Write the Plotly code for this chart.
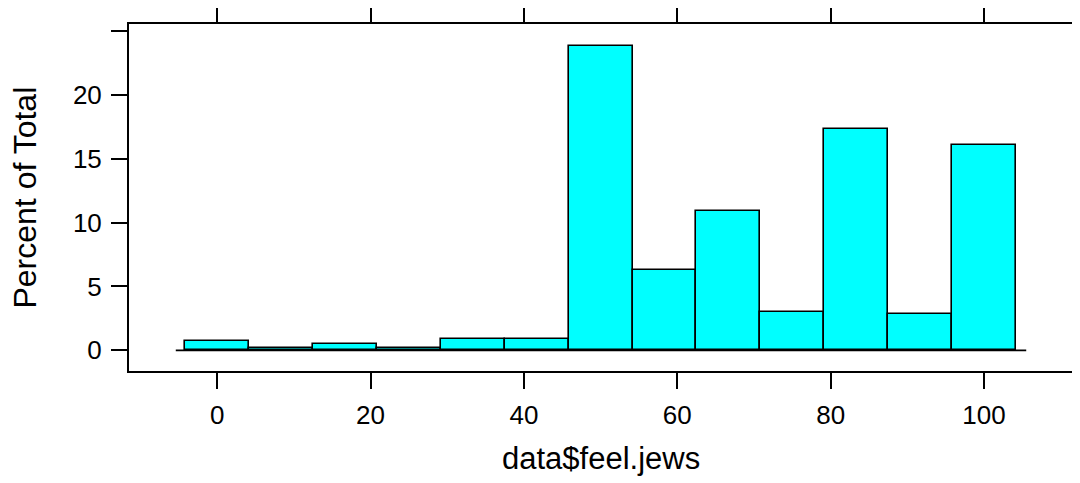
import plotly.graph_objects as go

# Histogram of data$feel.jews (lattice style), percent of total
breaks = [-4.1667 + i * 100 / 12 for i in range(14)]
percent = [0.75, 0.16, 0.49, 0.16, 0.86, 0.86, 23.85, 6.31, 10.93, 3.0, 17.33, 2.84, 16.05]
x_ticks = [0, 20, 40, 60, 80, 100]
y_ticks = [0, 5, 10, 15, 20, 25]
y_ticktext = ["0", "5", "10", "15", "20", ""]
baseline_x = [-5.4, 105.5]
baseline_y = [0, 0]
x_label = "data$feel.jews"
y_label = "Percent of Total"

centers = [(breaks[i] + breaks[i + 1]) / 2 for i in range(len(percent))]
widths = [breaks[i + 1] - breaks[i] for i in range(len(percent))]

fig = go.Figure()
fig.add_trace(go.Scatter(x=baseline_x, y=baseline_y, mode="lines",
                         line=dict(color="black", width=1.8), showlegend=False,
                         hoverinfo="skip"))
fig.add_trace(go.Bar(x=centers, y=percent, width=widths,
                     marker=dict(color="#00FFFF", line=dict(color="black", width=1.6)),
                     showlegend=False))

font_family = "Liberation Sans, Arial, Helvetica, sans-serif"
fig.update_layout(
    width=1072, height=475,
    margin=dict(l=121, r=7, t=16, b=112),
    paper_bgcolor="white", plot_bgcolor="white",
    font=dict(family=font_family, color="black", size=26),
    bargap=0,
)
fig.update_xaxes(
    range=[-11.5, 111.6], tickvals=x_ticks, ticktext=[str(v) for v in x_ticks],
    ticks="outside", ticklen=16, tickwidth=1.8, tickcolor="black",
    showline=True, linecolor="black", linewidth=2, mirror="ticks",
    showgrid=False, zeroline=False, automargin=False,
    tickfont=dict(size=26), ticklabelstandoff=4,
)
fig.update_yaxes(
    range=[-1.62, 25.55], tickvals=y_ticks, ticktext=y_ticktext,
    ticks="outside", ticklen=16, tickwidth=1.8, tickcolor="black",
    showline=True, linecolor="black", linewidth=2, mirror="ticks",
    showgrid=False, zeroline=False, automargin=False,
    tickfont=dict(size=26), ticklabelstandoff=4,
)
fig.add_annotation(text=x_label, xref="paper", yref="paper", x=0.5, y=-0.2536,
                   xanchor="center", yanchor="middle", showarrow=False,
                   font=dict(size=31))
fig.add_annotation(text=y_label, xref="paper", yref="paper", x=-0.1112, y=0.5,
                   xanchor="center", yanchor="middle", showarrow=False,
                   textangle=-90, font=dict(size=32))
fig.write_html("out.html")
